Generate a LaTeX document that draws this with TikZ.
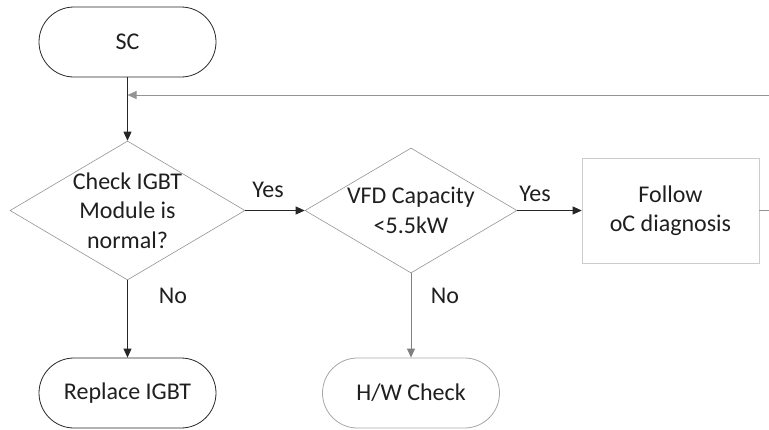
\documentclass[tikz,border=0pt]{standalone}
\usepackage{fontspec}
\setmainfont{Carlito}
\usetikzlibrary{shapes.geometric,shapes.misc,arrows.meta}
\definecolor{txt}{gray}{0.12}
\definecolor{dline}{gray}{0.15}
\definecolor{gline}{gray}{0.58}
\definecolor{lline}{gray}{0.80}
\begin{document}
\begin{tikzpicture}[x=1pt,y=-1pt,
  every node/.style={font=\fontsize{24}{29.5}\selectfont, text=txt},
  term/.style={rounded rectangle, draw=#1, line width=0.8pt, minimum width=177pt, minimum height=70pt, inner sep=0pt},
  dia/.style={diamond, draw=gline, line width=0.6pt, inner sep=0pt},
  txtnode/.style={align=center, inner sep=0pt},
  arr/.style={-{Triangle[length=9pt,width=8pt]}, draw=dline, line width=0.8pt},
  lab/.style={inner sep=0pt}]
\useasboundingbox (0,0) rectangle (769,429);
\node[term=dline] (sc) at (127.5,42) {SC};
\node[dia, minimum width=235pt, minimum height=139pt] (d1) at (127.5,210.5) {};
\node[txtnode] (d1t) at (d1.center) {Check IGBT\\Module is\\normal?};
\node[dia, minimum width=212pt, minimum height=125pt] (d2) at (411,210.5) {};
\node[txtnode] (d2t) at (d2.center) {VFD Capacity\\<5.5kW};
\node[draw=lline, line width=0.6pt, minimum width=177pt, minimum height=105pt, inner sep=0pt, align=center] (box) at (670.5,210.5) {Follow\\oC diagnosis};
\node[term=dline] (rep) at (127.5,393) {Replace IGBT};
\node[term=lline!80!gray, draw=gray!70] (hw) at (411,393) {H/W Check};
\coordinate (fb) at (769,95);
\coordinate (stub) at (769,210.5);
\draw[arr] (sc.south) -- (d1.north);
\draw[-{Triangle[length=9pt,width=8pt]}, draw=gline, line width=0.6pt] (fb) -- (sc.south |- fb);
\draw[arr] (d1.east) -- (d2.west);
\draw[arr] (d2.east) -- (box.west);
\draw[draw=gline, line width=0.6pt] (box.east) -- (stub);
\draw[arr] (d1.south) -- (rep.north);
\draw[arr, draw=gray] (d2.south) -- (hw.north);
\node[lab] (y1) at (268,190) {Yes};
\node[lab] (y2) at (535,194) {Yes};
\node[lab] (n1) at (173,296) {No};
\node[lab] (n2) at (445,296) {No};
\end{tikzpicture}
\end{document}
